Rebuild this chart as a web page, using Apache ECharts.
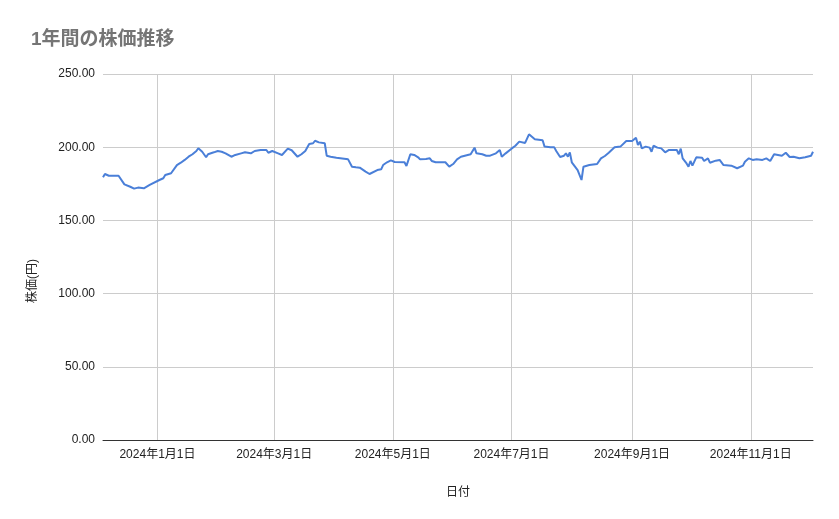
<!DOCTYPE html>
<html>
<head>
<meta charset="utf-8">
<script src="https://cdn.jsdelivr.net/npm/echarts@6/dist/echarts.min.js"></script>
<style>
  html, body { margin: 0; padding: 0; background: #fff; }
  #chart { width: 839px; height: 519px; }
</style>
</head>
<body>
<div id="chart"></div>
<script>
// 日付と株価（グラフから読み取った概算値）
const dates = [
  '2023-12-04', '2023-12-05', '2023-12-07', '2023-12-12', '2023-12-13', '2023-12-15',
  '2023-12-18', '2023-12-20', '2023-12-22', '2023-12-25', '2023-12-28', '2023-12-29',
  '2024-01-02', '2024-01-04', '2024-01-05', '2024-01-08', '2024-01-09', '2024-01-11',
  '2024-01-13', '2024-01-15', '2024-01-16', '2024-01-17', '2024-01-19', '2024-01-21',
  '2024-01-22', '2024-01-24', '2024-01-26', '2024-01-27', '2024-01-30', '2024-02-01',
  '2024-02-03', '2024-02-05', '2024-02-08', '2024-02-10', '2024-02-13', '2024-02-14',
  '2024-02-15', '2024-02-18', '2024-02-20', '2024-02-23', '2024-02-26', '2024-02-27',
  '2024-02-29', '2024-03-03', '2024-03-05', '2024-03-06', '2024-03-08', '2024-03-10',
  '2024-03-13', '2024-03-15', '2024-03-17', '2024-03-19', '2024-03-21', '2024-03-22',
  '2024-03-24', '2024-03-27', '2024-03-28', '2024-03-30', '2024-04-02', '2024-04-03',
  '2024-04-08', '2024-04-10', '2024-04-12', '2024-04-14', '2024-04-17', '2024-04-19',
  '2024-04-20', '2024-04-23', '2024-04-24', '2024-04-25', '2024-04-26', '2024-04-28',
  '2024-04-30', '2024-05-02', '2024-05-07', '2024-05-08', '2024-05-10', '2024-05-12',
  '2024-05-14', '2024-05-15', '2024-05-16', '2024-05-18', '2024-05-20', '2024-05-21',
  '2024-05-23', '2024-05-28', '2024-05-30', '2024-06-01', '2024-06-03', '2024-06-05',
  '2024-06-07', '2024-06-10', '2024-06-11', '2024-06-12', '2024-06-13', '2024-06-16',
  '2024-06-18', '2024-06-20', '2024-06-23', '2024-06-25', '2024-06-26', '2024-06-28',
  '2024-07-01', '2024-07-03', '2024-07-05', '2024-07-08', '2024-07-10', '2024-07-13',
  '2024-07-17', '2024-07-18', '2024-07-21', '2024-07-23', '2024-07-24', '2024-07-26',
  '2024-07-28', '2024-07-29', '2024-07-30', '2024-07-31', '2024-08-01', '2024-08-04',
  '2024-08-06', '2024-08-07', '2024-08-10', '2024-08-14', '2024-08-16', '2024-08-18',
  '2024-08-20', '2024-08-23', '2024-08-26', '2024-08-29', '2024-09-01', '2024-09-03',
  '2024-09-04', '2024-09-05', '2024-09-06', '2024-09-08', '2024-09-10', '2024-09-11',
  '2024-09-12', '2024-09-14', '2024-09-16', '2024-09-18', '2024-09-20', '2024-09-24',
  '2024-09-25', '2024-09-26', '2024-09-27', '2024-09-29', '2024-09-30', '2024-10-01',
  '2024-10-02', '2024-10-04', '2024-10-07', '2024-10-08', '2024-10-10', '2024-10-11',
  '2024-10-14', '2024-10-16', '2024-10-18', '2024-10-22', '2024-10-23', '2024-10-25',
  '2024-10-28', '2024-10-29', '2024-10-31', '2024-11-02', '2024-11-04', '2024-11-07',
  '2024-11-09', '2024-11-11', '2024-11-13', '2024-11-15', '2024-11-17', '2024-11-19',
  '2024-11-21', '2024-11-23', '2024-11-26', '2024-11-27', '2024-11-29', '2024-12-02',
  '2024-12-03'
]

const prices = [
  179.4, 181.7, 180.5, 180.5, 181.0, 174.6,
  173.0, 171.7, 172.4, 171.9, 174.2, 175.3,
  177.6, 178.8, 181.0, 182.2, 183.3, 187.8,
  189.4, 191.3, 190.1, 193.5, 195.2, 197.4,
  199.3, 196.9, 193.1, 195.2, 196.5, 197.4,
  196.9, 195.8, 193.5, 194.7, 195.8, 194.7,
  196.5, 195.8, 197.4, 198.1, 198.1, 196.2,
  197.4, 195.8, 194.7, 195.2, 199.0, 197.9,
  193.5, 195.2, 197.4, 202.2, 202.7, 204.4,
  203.3, 202.7, 194.2, 193.5, 192.8, 191.9,
  191.7, 186.7, 186.3, 186.0, 183.3, 181.7,
  182.2, 184.4, 185.6, 184.9, 187.8, 189.7,
  191.0, 189.9, 189.7, 187.2, 195.2, 194.7,
  193.1, 191.7, 192.8, 191.9, 192.4, 190.6,
  189.7, 189.7, 186.7, 188.5, 191.7, 193.5,
  194.2, 195.2, 195.2, 199.7, 195.8, 195.2,
  194.2, 194.2, 195.8, 198.1, 193.5, 195.8,
  199.0, 201.0, 203.8, 202.9, 208.8, 205.4,
  204.7, 200.4, 199.9, 199.9, 197.4, 193.3,
  194.2, 195.8, 193.5, 196.5, 189.7, 184.4,
  177.6, 186.7, 187.8, 188.5, 192.4, 194.0,
  196.2, 199.9, 200.4, 204.2, 204.2, 206.5,
  201.5, 203.8, 199.2, 200.4, 199.7, 196.9,
  201.0, 199.7, 199.2, 196.5, 198.1, 198.1,
  195.2, 199.0, 192.4, 188.9, 186.7, 190.6,
  187.4, 193.1, 192.8, 190.6, 192.4, 189.4,
  190.8, 191.3, 187.8, 187.4, 187.2, 185.6,
  187.4, 190.1, 192.4, 191.3, 191.7, 191.3,
  192.4, 190.6, 195.2, 194.7, 194.2, 196.2,
  193.3, 193.5, 192.4, 191.3, 193.1, 194.2,
  196.9
]

// 目盛りの日付
const tickDates = ['2024-01-01', '2024-03-01', '2024-05-01', '2024-07-01', '2024-09-01', '2024-11-01']
const axisStart = '2023-12-04'
const axisEnd = '2024-12-03'

function toTime(str) {
  const p = str.split('-').map(Number)
  return new Date(p[0], p[1] - 1, p[2]).getTime()
}

const chart = echarts.init(document.getElementById('chart'))

const fontFamily = 'Arial, "Liberation Sans", "Noto Sans CJK JP", sans-serif'
const tickTimes = tickDates.map(toTime)

chart.setOption({
  animation: false,
  textStyle: { fontFamily: fontFamily },
  title: {
    text: '1年間の株価推移',
    left: 26,
    top: 25,
    textStyle: {
      color: '#757575',
      fontSize: 19,
      fontWeight: 'bold',
      fontFamily: fontFamily
    }
  },
  grid: {
    left: 103,
    right: 26,
    top: 74,
    bottom: 79
  },
  xAxis: {
    // 日付はタイムスタンプの数値軸として扱う
    type: 'value',
    min: toTime(axisStart),
    max: toTime(axisEnd),
    name: '日付',
    nameLocation: 'middle',
    nameGap: 47,
    nameTextStyle: { color: '#222', fontSize: 12 },
    axisLine: { lineStyle: { color: '#333', width: 1 } },
    axisTick: { show: false, customValues: tickTimes },
    axisLabel: {
      customValues: tickTimes,
      color: '#222',
      fontSize: 12,
      margin: 9,
      formatter: (val) => {
        const d = new Date(val)
        return d.getFullYear() + '年' + (d.getMonth() + 1) + '月' + d.getDate() + '日'
      }
    },
    splitLine: { show: true, lineStyle: { color: '#cccccc' } }
  },
  yAxis: {
    type: 'value',
    min: 0,
    max: 250,
    interval: 50,
    name: '株価(円)',
    nameLocation: 'middle',
    nameRotate: 90,
    nameGap: 64,
    // 軸名を少し下にずらす
    nameTextStyle: { color: '#222', fontSize: 12, padding: [0, 48, 0, 0] },
    axisLine: { show: false },
    axisTick: { show: false },
    axisLabel: {
      color: '#222',
      fontSize: 12,
      margin: 8,
      formatter: (val) => val.toFixed(2)
    },
    splitLine: { lineStyle: { color: '#cccccc' } }
  },
  series: [{
    type: 'line',
    data: dates.map((d, i) => [toTime(d), prices[i]]),
    showSymbol: false,
    symbol: 'none',
    lineStyle: { color: '#4a7fd8', width: 2 },
    itemStyle: { color: '#4a7fd8' }
  }]
})
</script>
</body>
</html>
